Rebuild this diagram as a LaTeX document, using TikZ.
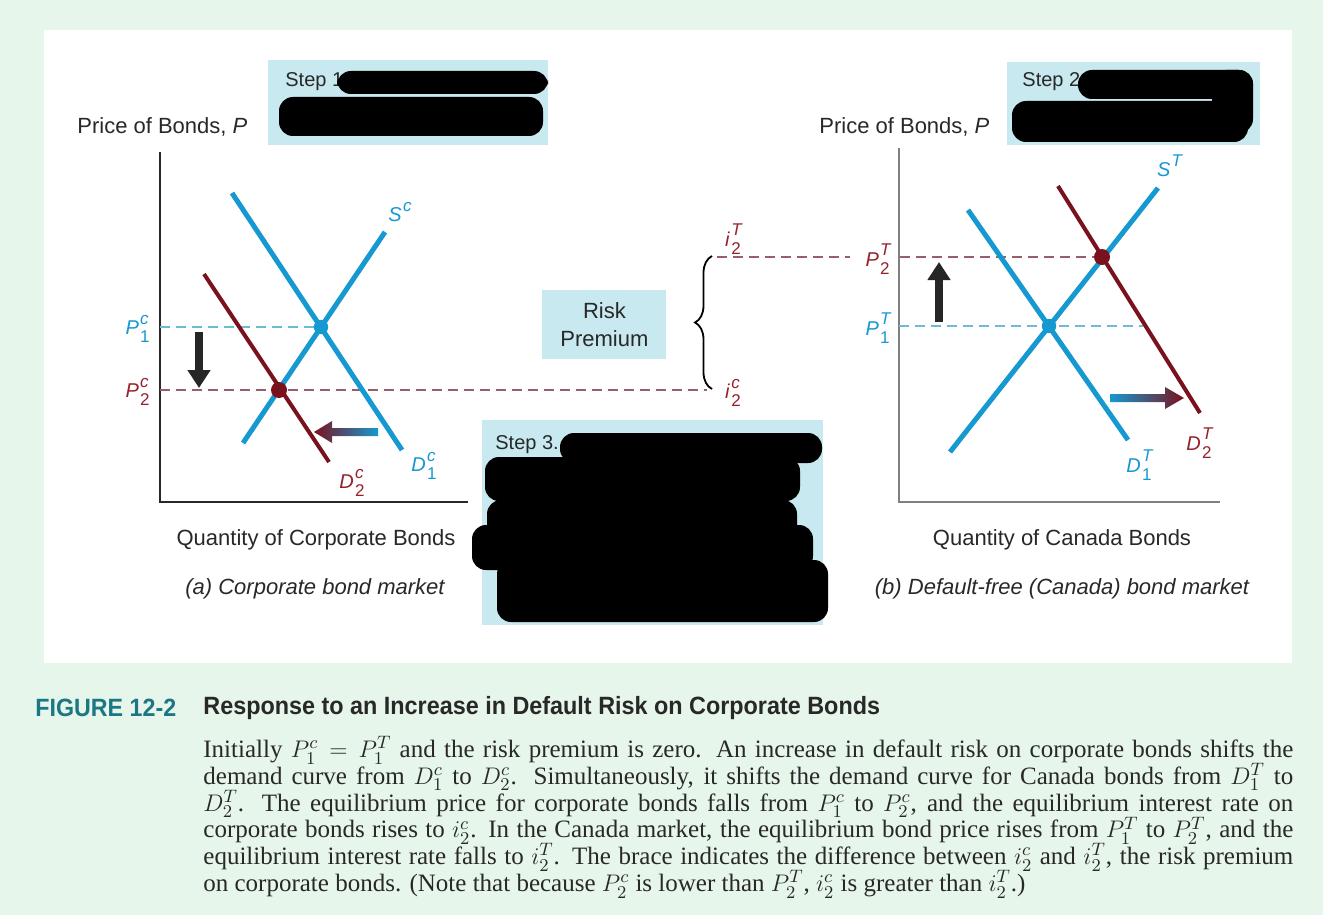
\documentclass[tikz,border=0pt]{standalone}
\usepackage{amsmath}
\usepackage{fontspec}
\setmainfont{Liberation Serif}
\setsansfont{Liberation Sans}
\usepackage{graphicx}
\usepackage{tikz}
\usetikzlibrary{arrows.meta, calc, positioning, decorations.pathreplacing}
\usepackage{xcolor}
\definecolor{bgmint}{RGB}{231,246,234}
\definecolor{boxblue}{RGB}{200,233,239}
\definecolor{curveblue}{RGB}{22,152,208}
\definecolor{curvered}{RGB}{122,18,30}
\definecolor{labelred}{RGB}{150,32,44}
\definecolor{dashred}{RGB}{150,95,105}
\definecolor{dashblue}{RGB}{110,185,212}
\definecolor{figteal}{RGB}{28,118,132}
\definecolor{inkgray}{RGB}{40,40,40}
% curve labels: letter with stacked super- and subscript
\newcommand{\crv}[3]{\textit{#1}\kern0.6pt{\fontsize{8.5}{9}\selectfont\rlap{\raisebox{5.2pt}{\textit{#2}}}\raisebox{-4pt}{#3}}}
\newcommand{\crvs}[2]{\textit{#1}\kern0.6pt{\fontsize{8.5}{9}\selectfont\raisebox{5.2pt}{\textit{#2}}}}

\begin{document}
\begin{tikzpicture}[x=0.5pt, y=-0.5pt, font=\sffamily\fontsize{11}{13}\selectfont,
    bluecurve/.style={curveblue, line width=2.5pt},
    redcurve/.style={curvered, line width=2pt},
    bluedash/.style={dashblue, line width=0.7pt, dash pattern=on 5pt off 3pt},
    reddash/.style={dashred, line width=0.7pt, dash pattern=on 5pt off 3pt},
    axisline/.style={inkgray, line width=0.6pt},
    stepbox/.style={fill=boxblue, draw=none, anchor=north west, inner sep=0pt},
    steptext/.style={text=inkgray, inner sep=0pt, anchor=west, font=\sffamily\fontsize{10}{12}\selectfont},
    redact/.style={fill=black, rounded corners=7pt},
    bigarrow/.style={black!85, line width=4pt, -{Triangle[width=11pt, length=9pt]}},
    bluelabel/.style={text=curveblue, inner sep=0pt, font=\sffamily\fontsize{10}{12}\selectfont},
    redlabel/.style={text=labelred, inner sep=0pt, font=\sffamily\fontsize{10}{12}\selectfont},
    axistext/.style={text=inkgray, inner sep=0pt}]
    \useasboundingbox (0,0) rectangle (1334,915);
    % background
    \fill[bgmint] (0,0) rectangle (1323,915);
    \fill[white] (1323,0) rectangle (1334,915);
    \fill[white] (44,30) rectangle (1292,663);

    % step boxes
    \node[stepbox, minimum width=140pt, minimum height=42.5pt] (box1) at (268,60) {};
    \node[steptext] (step1) at (285,82) {Step 1};
    \fill[redact] (337,71) rectangle (548,94);
    \fill[redact] (279,97) rectangle (543,136);
    \node[stepbox, minimum width=126.5pt, minimum height=41.5pt] (box2) at (1007,62) {};
    \node[steptext] (step2) at (1022,82) {Step 2};
    \fill[redact] (1078,70) rectangle (1253,99);
    \fill[redact] (1212,70) rectangle (1253,133);
    \fill[redact] (1012,101) rectangle (1248,142);
    \node[stepbox, minimum width=170.5pt, minimum height=102.5pt] (box3) at (482,420) {};
    \node[steptext] (step3) at (495,445) {Step 3.};
    \fill[redact] (560,433) rectangle (822,463);
    \fill[redact] (485,457) rectangle (800,501);
    \fill[redact] (487,500) rectangle (797,544);
    \fill[redact] (472,525) rectangle (813,570);
    \fill[redact] (497,560) rectangle (828,622);

    % risk premium
    \node[stepbox, minimum width=62pt, minimum height=34.5pt] (rpbox) at (542,290) {};
    \node[axistext, align=center] (rp) at (rpbox.center) {Risk\\[1pt]Premium};

    % corporate bond market
    \coordinate (yL) at (160,152);
    \coordinate (oL) at (160,502);
    \coordinate (xL) at (468,502);
    \draw[axisline] (yL) -- (oL) -- (xL);
    \coordinate (e1c) at (321,327);
    \coordinate (e2c) at (279,390);
    \draw[bluedash] (oL |- e1c) -- (e1c);
    \draw[reddash] (oL |- e2c) -- (707,390);
    \draw[bluecurve] (232,193) -- (402,450);
    \draw[bluecurve] (243,443) -- (385,232);
    \draw[redcurve] (204,274) -- (329,462);
    \fill[curveblue] (e1c) circle (3.6pt);
    \fill[curvered] (e2c) circle (4pt);
    \draw[bigarrow] (199,332) -- (199,388);
    \shade[left color=curvered, right color=curveblue] (314,432) -- (332,421) -- (332,428) -- (378,428) -- (378,436) -- (332,436) -- (332,443) -- cycle;
    \node[bluelabel] (Sc) at (400,212) {\crvs{S}{c}};
    \node[bluelabel] (D1c) at (424,466) {\crv{D}{c}{1}};
    \node[redlabel] (D2c) at (352,483) {\crv{D}{c}{2}};
    \node[bluelabel, anchor=east] (P1c) at (150,329) {\crv{P}{c}{1}};
    \node[redlabel, anchor=east] (P2c) at (150,392) {\crv{P}{c}{2}};
    \node[axistext, anchor=west] (pL) at (77,127) {Price of Bonds, \textit{P}};
    \node[axistext] (qL) at (316,540) {Quantity of Corporate Bonds};
    \node[axistext, font=\sffamily\itshape\fontsize{11}{13}\selectfont] (capL) at (315,589) {(a) Corporate bond market};

    % brace between the two rates
    \draw[black, line width=0.9pt, decorate, decoration={brace, amplitude=8.5pt}] (712,389) -- (712,256);
    \node[redlabel] (i2T) at (733,239) {\crv{i}{T}{2}};
    \node[redlabel] (i2c) at (733,393) {\crv{i}{c}{2}};

    % Canada bond market
    \coordinate (yR) at (899,148);
    \coordinate (oR) at (899,502);
    \coordinate (xR) at (1220,502);
    \draw[axisline, gray] (yR) -- (oR) -- (xR);
    \coordinate (e1T) at (1049,326);
    \coordinate (e2T) at (1102,257);
    \draw[bluedash] (oR |- e1T) -- (1143,326);
    \draw[reddash] (717,257) -- (850,257);
    \draw[reddash] (900,257) -- (e2T);
    \draw[bluecurve] (968,210) -- (1128,440);
    \draw[bluecurve] (950,452) -- (1158,188);
    \draw[redcurve] (1058,186) -- (1200,413);
    \fill[curveblue] (e1T) circle (3.6pt);
    \fill[curvered] (e2T) circle (4pt);
    \draw[bigarrow] (939,322) -- (939,262);
    \shade[left color=curveblue, right color=curvered] (1110,394) -- (1165,394) -- (1165,387) -- (1184,398) -- (1165,409) -- (1165,402) -- (1110,402) -- cycle;
    \node[bluelabel] (ST) at (1170,166) {\crvs{S}{T}};
    \node[bluelabel] (D1T) at (1139,465) {\crv{D}{T}{1}};
    \node[redlabel] (D2T) at (1199,443) {\crv{D}{T}{2}};
    \node[bluelabel, anchor=east] (P1T) at (890,328) {\crv{P}{T}{1}};
    \node[redlabel, anchor=east] (P2T) at (890,259) {\crv{P}{T}{2}};
    \node[axistext, anchor=west] (pR) at (819,127) {Price of Bonds, \textit{P}};
    \node[axistext] (qR) at (1062,540) {Quantity of Canada Bonds};
    \node[axistext, font=\sffamily\itshape\fontsize{11}{13}\selectfont] (capR) at (1062,589) {(b) Default-free (Canada) bond market};

    % caption
    \node[anchor=west, inner sep=0pt, text=figteal, font=\sffamily\bfseries\fontsize{12.5}{14}\selectfont] (fignum) at (35,708) {\scalebox{0.93}[1]{FIGURE 12-2}};
    \node[anchor=west, inner sep=0pt, text=inkgray, font=\sffamily\bfseries\fontsize{12.5}{14}\selectfont] (figtitle) at (203,708) {\scalebox{0.935}[1]{Response to an Increase in Default Risk on Corporate Bonds}};
    \node[anchor=north west, inner sep=0pt, text width=545pt, align=justify, text=inkgray, font=\rmfamily] (figbody) at (203,736) {%
      \fontsize{12.5}{13.4}\selectfont\baselineskip=13.4pt\lineskiplimit=-20pt\lineskip=0pt\relax
      Initially $P^{c}_{1} = P^{T}_{1}$ and the risk premium is zero. An increase in default risk on corporate bonds shifts the\linebreak
      demand curve from $D^{c}_{1}$ to $D^{c}_{2}$. Simultaneously, it shifts the demand curve for Canada bonds from $D^{T}_{1}$ to\linebreak
      $D^{T}_{2}$. The equilibrium price for corporate bonds falls from $P^{c}_{1}$ to $P^{c}_{2}$, and the equilibrium interest rate on\linebreak
      corporate bonds rises to $i^{c}_{2}$. In the Canada market, the equilibrium bond price rises from $P^{T}_{1}$ to $P^{T}_{2}$, and the\linebreak
      equilibrium interest rate falls to $i^{T}_{2}$. The brace indicates the difference between $i^{c}_{2}$ and $i^{T}_{2}$, the risk premium\linebreak
      on corporate bonds. (Note that because $P^{c}_{2}$ is lower than $P^{T}_{2}$, $i^{c}_{2}$ is greater than $i^{T}_{2}$.)\par};
\end{tikzpicture}
\end{document}
